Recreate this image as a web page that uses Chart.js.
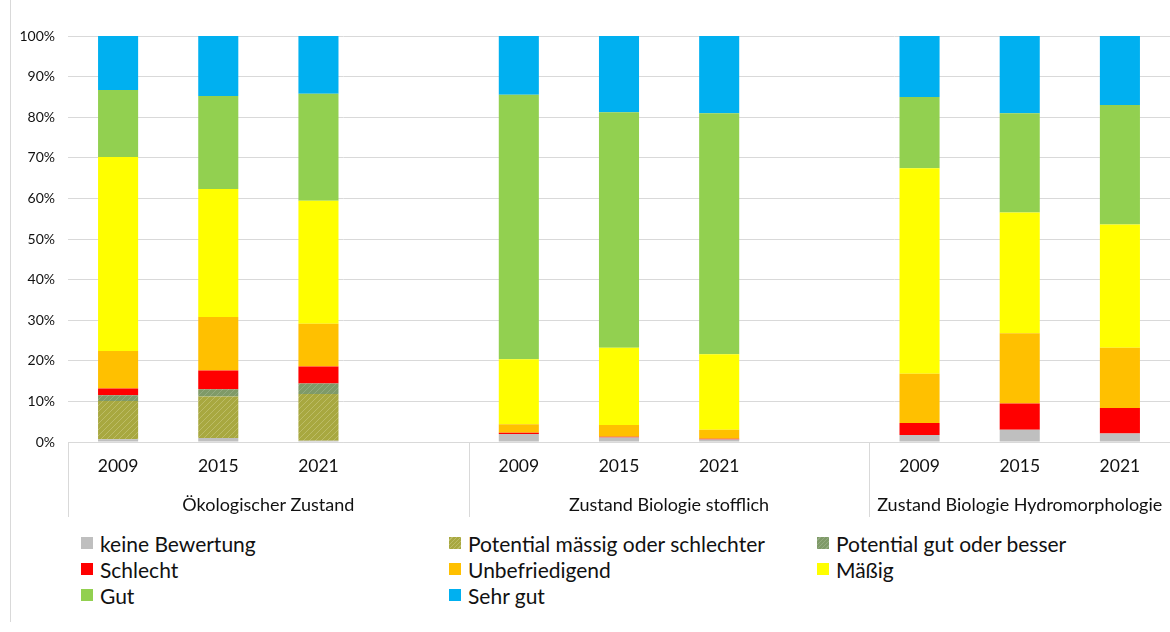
<!DOCTYPE html>
<html>
<head>
<meta charset="utf-8">
<script src="https://cdn.jsdelivr.net/npm/chart.js@4"></script>
<style>
  body { margin: 0; background: #fff; }
  #wrap { position: relative; width: 1170px; height: 632px; overflow: hidden; }
  #frame { position: absolute; left: 10px; top: 0; width: 1px; height: 622px; background: #d9d9d9; }
  #box { position: absolute; left: 0; top: 0; width: 1170px; height: 525px; }
  #legend { position: absolute; left: 81px; top: 532px; display: grid;
    grid-template-columns: 368px 368px 300px; row-gap: 4px;
    font-family: Lato, 'Noto Sans', sans-serif; font-size: 21px; color: #111; }
  .item { display: flex; align-items: center; height: 22px; white-space: nowrap; }
  .sw { width: 12px; height: 12px; margin-right: 7px; flex: none; }
</style>
</head>
<body>
<div id="wrap">
  <div id="frame"></div>
  <div id="box"><canvas id="chartZustand"></canvas></div>
  <div id="legend"></div>
</div>
<script>
// categories (blank slot between groups)
const categories = ['2009', '2015', '2021', '', '2009', '2015', '2021', '', '2009', '2015', '2021'];
const groupLabels = ['Ökologischer Zustand', 'Zustand Biologie stofflich', 'Zustand Biologie Hydromorphologie'];
const groupFirst = [0, 4, 8];
const groupLast = [3, 7, 10];
const yTicks = [0, 10, 20, 30, 40, 50, 60, 70, 80, 90, 100];

// shares in %
const keineBewertung  = [0.7, 1.0, 0.3, null, 2.0, 1.1, 0.6, null, 1.7, 3.0, 2.1];
const potMaessig      = [9.4, 10.2, 11.5, null, 0, 0, 0, null, 0, 0, 0];
const potGut          = [1.4, 1.8, 2.6, null, 0, 0, 0, null, 0, 0, 0];
const schlecht        = [1.7, 4.6, 4.2, null, 0.3, 0.2, 0.2, null, 3.0, 6.5, 6.3];
const unbefriedigend  = [9.2, 13.2, 10.5, null, 2.1, 2.9, 2.2, null, 12.1, 17.3, 14.8];
const maessig         = [47.8, 31.5, 30.3, null, 16.0, 19.0, 18.6, null, 50.6, 29.7, 30.4];
const gut             = [16.5, 22.9, 26.4, null, 65.1, 58.0, 59.4, null, 17.6, 24.5, 29.4];
const sehrGut         = [13.3, 14.8, 14.2, null, 14.5, 18.8, 19.0, null, 15.0, 19.0, 17.4];

function hatch(base, line) {
  const c = document.createElement('canvas');
  c.width = 6; c.height = 6;
  const g = c.getContext('2d');
  g.fillStyle = base; g.fillRect(0, 0, 6, 6);
  g.strokeStyle = line; g.lineWidth = 1;
  g.beginPath();
  g.moveTo(0, 6); g.lineTo(6, 0);
  g.moveTo(-3, 3); g.lineTo(3, -3);
  g.moveTo(3, 9); g.lineTo(9, 3);
  g.stroke();
  return g.createPattern(c, 'repeat');
}

const series = [
  { label: 'keine Bewertung', data: keineBewertung, color: '#bfbfbf', css: '#bfbfbf' },
  { label: 'Potential mässig oder schlechter', data: potMaessig, color: hatch('#a8a840', '#bcbc66'),
    css: 'repeating-linear-gradient(135deg,#a8a840 0 2px,#bcbc66 2px 3px)' },
  { label: 'Potential gut oder besser', data: potGut, color: hatch('#7f9a68', '#93ab80'),
    css: 'repeating-linear-gradient(135deg,#7f9a68 0 2px,#93ab80 2px 3px)' },
  { label: 'Schlecht', data: schlecht, color: '#ff0000', css: '#ff0000' },
  { label: 'Unbefriedigend', data: unbefriedigend, color: '#ffc000', css: '#ffc000' },
  { label: 'Mäßig', data: maessig, color: '#ffff00', css: '#ffff00' },
  { label: 'Gut', data: gut, color: '#92d050', css: '#92d050' },
  { label: 'Sehr gut', data: sehrGut, color: '#00b0f0', css: '#00b0f0' }
];

const font = 'Lato, "Noto Sans", sans-serif';

// group captions and separators under the x axis
const groupAxis = {
  id: 'groupAxis',
  afterDraw(chart) {
    const { ctx, scales: { x }, chartArea } = chart;
    const slot = x.getPixelForValue(1) - x.getPixelForValue(0);
    ctx.save();
    ctx.strokeStyle = '#d9d9d9';
    ctx.lineWidth = 1;
    ctx.fillStyle = '#111';
    ctx.font = '18px ' + font;
    ctx.textAlign = 'center';
    ctx.textBaseline = 'middle';
    groupLabels.forEach((g, i) => {
      const left = x.getPixelForValue(groupFirst[i]) - slot / 2;
      const right = x.getPixelForValue(groupLast[i]) + slot / 2;
      const px = Math.round(left) + 0.5;
      ctx.beginPath();
      ctx.moveTo(px, chartArea.bottom);
      ctx.lineTo(px, chartArea.bottom + 75);
      ctx.stroke();
      ctx.fillText(g, (left + Math.min(right, chart.width)) / 2, chartArea.bottom + 63);
    });
    ctx.restore();
  }
};

const ctx = document.getElementById('chartZustand');
new Chart(ctx, {
  type: 'bar',
  data: {
    labels: categories,
    datasets: series.map(s => ({
      label: s.label,
      data: s.data,
      backgroundColor: s.color,
      borderWidth: 0,
      categoryPercentage: 1,
      barPercentage: 0.4
    }))
  },
  options: {
    responsive: true,
    maintainAspectRatio: false,
    animation: false,
    layout: { padding: { top: 36, right: 0, bottom: 0, left: 0 } },
    plugins: { legend: { display: false }, tooltip: { enabled: false } },
    scales: {
      x: {
        stacked: true,
        grid: { display: false, drawTicks: false },
        border: { color: '#d9d9d9' },
        ticks: { color: '#111', font: { family: font, size: 17.5 }, padding: 14, maxRotation: 0, autoSkip: false },
        afterFit: s => { s.height = 83; }
      },
      y: {
        stacked: true,
        min: 0,
        max: 100,
        afterBuildTicks: s => { s.ticks = yTicks.map(v => ({ value: v })); },
        grid: { color: '#d9d9d9', drawTicks: false },
        border: { display: false },
        ticks: { color: '#111', font: { family: font, size: 14 }, padding: 13, callback: v => v + '%' },
        afterFit: s => { s.width = 68; }
      }
    }
  },
  plugins: [groupAxis]
});

// legend in three columns
const legend = document.getElementById('legend');
series.forEach(s => {
  const it = document.createElement('div');
  it.className = 'item';
  it.innerHTML = '<span class="sw" style="background:' + s.css + '"></span><span></span>';
  it.lastChild.textContent = s.label;
  legend.appendChild(it);
});
</script>
</body>
</html>
